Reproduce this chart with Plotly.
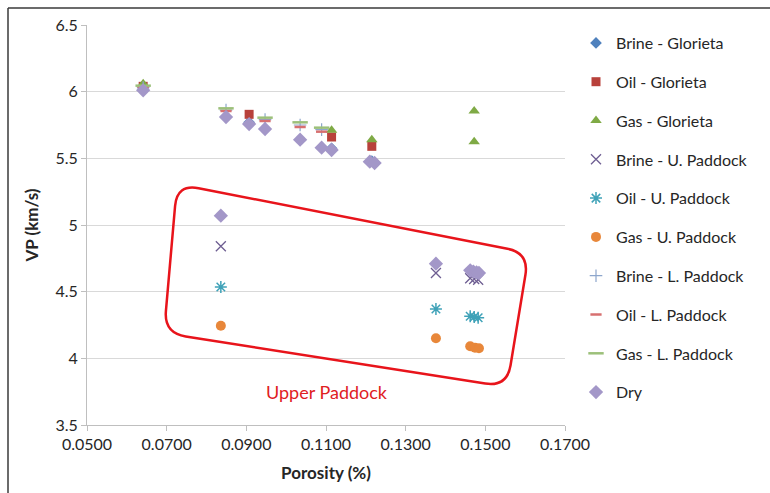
import plotly.graph_objects as go

# ---- data: porosity (fraction) and P-wave velocity (km/s) ----
brine_glorieta_x = [0.0641, 0.0907, 0.1114, 0.1215]
brine_glorieta_y = [6.02, 5.77, 5.575, 5.48]

oil_glorieta_x = [0.0641, 0.0907, 0.1114, 0.1215]
oil_glorieta_y = [6.04, 5.83, 5.66, 5.59]

gas_glorieta_x = [0.0641, 0.1114, 0.1215, 0.1472, 0.1472]
gas_glorieta_y = [6.06, 5.71, 5.64, 5.855, 5.625]

brine_up_x = [0.0836, 0.1376, 0.1462, 0.1472, 0.1482]
brine_up_y = [4.84, 4.64, 4.60, 4.595, 4.59]

oil_up_x = [0.0836, 0.1376, 0.1462, 0.1472, 0.1482]
oil_up_y = [4.535, 4.37, 4.315, 4.31, 4.305]

gas_up_x = [0.0836, 0.1376, 0.1462, 0.1474, 0.1484]
gas_up_y = [4.245, 4.15, 4.09, 4.08, 4.075]

brine_lp_x = [0.0641, 0.0849, 0.0947, 0.1035, 0.1089]
brine_lp_y = [6.03, 5.862, 5.79, 5.75, 5.715]

oil_lp_x = [0.0641, 0.0849, 0.0947, 0.1035, 0.1089]
oil_lp_y = [6.035, 5.855, 5.78, 5.735, 5.70]

gas_lp_x = [0.0641, 0.0849, 0.0947, 0.1035, 0.1089]
gas_lp_y = [6.045, 5.875, 5.805, 5.77, 5.73]

dry_x = [0.0641, 0.0849, 0.0907, 0.0947, 0.1035, 0.1089, 0.1114, 0.1210, 0.1222,
         0.0836, 0.1376, 0.1462, 0.1470, 0.1478, 0.1484]
dry_y = [6.01, 5.81, 5.757, 5.72, 5.64, 5.58, 5.5625, 5.475, 5.465,
         5.07, 4.71, 4.66, 4.65, 4.645, 4.64]

series = [
    ("Brine - Glorieta", brine_glorieta_x, brine_glorieta_y,
     dict(symbol="diamond", size=9, color="#4F81BD")),
    ("Oil - Glorieta", oil_glorieta_x, oil_glorieta_y,
     dict(symbol="square", size=9, color="#B8413B")),
    ("Gas - Glorieta", gas_glorieta_x, gas_glorieta_y,
     dict(symbol="triangle-up", size=10, color="#7FAA45")),
    ("Brine - U. Paddock", brine_up_x, brine_up_y,
     dict(symbol="x-thin-open", size=10, color="#6E5E92", line=dict(width=1.3, color="#6E5E92"))),
    ("Oil - U. Paddock", oil_up_x, oil_up_y,
     dict(symbol="asterisk-open", size=10, color="#3FA2B8", line=dict(width=1.5, color="#3FA2B8"))),
    ("Gas - U. Paddock", gas_up_x, gas_up_y,
     dict(symbol="circle", size=10, color="#E8873A")),
    ("Brine - L. Paddock", brine_lp_x, brine_lp_y,
     dict(symbol="cross-thin-open", size=9, color="#8DA6CC", line=dict(width=1.2, color="#8DA6CC"))),
    ("Oil - L. Paddock", oil_lp_x, oil_lp_y,
     dict(symbol="line-ew-open", size=8, color="#D77070", line=dict(width=2.5, color="#D77070"))),
    ("Gas - L. Paddock", gas_lp_x, gas_lp_y,
     dict(symbol="line-ew-open", size=11, color="#9CC07A", line=dict(width=2.5, color="#9CC07A"))),
    ("Dry", dry_x, dry_y,
     dict(symbol="diamond", size=11, color="#A397C8")),
]

FONT = "Lato"

fig = go.Figure()
for i, (name, xs, ys, mk) in enumerate(series):
    fig.add_trace(go.Scatter(x=xs, y=ys, mode="markers", name=name, marker=mk,
                             legendgroup=str(i)))

# ---- plot geometry (pixels) used for the highlight outline ----
W, H = 770, 493
L, R, T, B = 87, 565, 25, 425
X0, X1, Y0, Y1 = 0.05, 0.17, 3.5, 6.5


def px_to_data(px, py):
    return (X0 + (px - L) / (R - L) * (X1 - X0),
            Y1 - (py - T) / (B - T) * (Y1 - Y0))


# rounded quadrilateral around the Upper Paddock samples
corners = [(177, 184), (529, 253), (507, 387), (164, 333)]
rad = 22


def toward(p, q, d):
    dx, dy = q[0] - p[0], q[1] - p[1]
    n = (dx * dx + dy * dy) ** 0.5
    return (p[0] + dx / n * d, p[1] + dy / n * d)


parts = []
for k in range(4):
    prev_c = corners[k - 1]
    c = corners[k]
    nxt = corners[(k + 1) % 4]
    a = toward(c, prev_c, rad)
    b = toward(c, nxt, rad)
    ad, cd, bd = px_to_data(*a), px_to_data(*c), px_to_data(*b)
    cmd = "M" if k == 0 else "L"
    parts.append(f"{cmd}{ad[0]},{ad[1]} Q{cd[0]},{cd[1]} {bd[0]},{bd[1]}")
path = " ".join(parts) + " Z"

fig.add_shape(type="path", path=path, xref="x", yref="y",
              line=dict(color="#E8141B", width=2.5), layer="above")

fig.add_annotation(x=px_to_data(327, 392)[0], y=px_to_data(327, 392)[1],
                   xref="x", yref="y", text="Upper Paddock", showarrow=False,
                   font=dict(family=FONT, size=18, color="#E0201F"))


# outer frame (left and top edges)
def paper_x(px):
    return (px - L) / (R - L)


def paper_y(py):
    return (B - py) / (B - T)


fig.add_shape(type="line", xref="paper", yref="paper",
              x0=paper_x(8), x1=paper_x(8), y0=paper_y(8), y1=paper_y(H + 5),
              line=dict(color="#3a3a3a", width=1.5))
fig.add_shape(type="line", xref="paper", yref="paper",
              x0=paper_x(8), x1=paper_x(W + 5), y0=paper_y(8), y1=paper_y(8),
              line=dict(color="#3a3a3a", width=1.5))

fig.update_layout(
    width=W, height=H,
    margin=dict(l=L, r=W - R, t=T, b=H - B),
    paper_bgcolor="white", plot_bgcolor="white",
    font=dict(family=FONT, size=16, color="#262626"),
    showlegend=True,
    legend=dict(x=paper_x(576), xanchor="left", y=paper_y(26), yanchor="top",
                font=dict(family=FONT, size=16, color="#262626"),
                tracegroupgap=15, itemsizing="trace",
                bgcolor="rgba(0,0,0,0)"),
    xaxis=dict(range=[X0, X1], dtick=0.02, tick0=0.05, tickformat=".4f",
               showgrid=False, zeroline=False, showline=True,
               linecolor="#BFBFBF", linewidth=1, ticks="outside",
               tickcolor="#BFBFBF", ticklen=5,
               tickfont=dict(family=FONT, size=16, color="#262626"),
               title=dict(text="<b>Porosity (%)</b>", standoff=14,
                          font=dict(family=FONT, size=17, color="#262626"))),
    yaxis=dict(range=[Y0, Y1], dtick=0.5, tick0=3.5,
               showgrid=True, gridcolor="#D9D9D9", gridwidth=1,
               zeroline=False, showline=True, linecolor="#BFBFBF",
               linewidth=1, ticks="outside", tickcolor="#BFBFBF", ticklen=5,
               tickfont=dict(family=FONT, size=16, color="#262626"),
               title=dict(text="<b>VP (km/s)</b>", standoff=12,
                          font=dict(family=FONT, size=17, color="#262626"))),
)

fig.write_html("out.html")
